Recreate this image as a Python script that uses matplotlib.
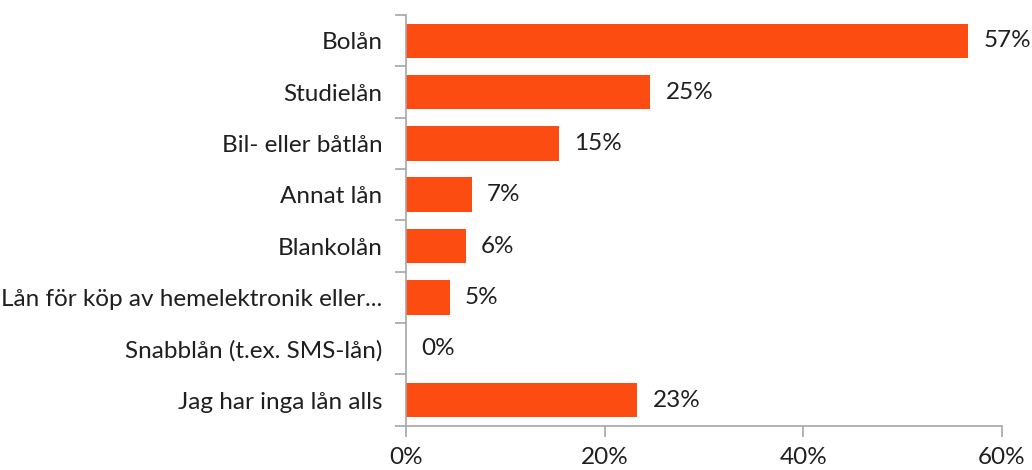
import matplotlib
matplotlib.use('Agg')
import matplotlib.pyplot as plt
from matplotlib.ticker import FuncFormatter

plt.rcParams['font.family'] = ['Lato', 'DejaVu Sans']

categories = [
    'Bolån',
    'Studielån',
    'Bil- eller båtlån',
    'Annat lån',
    'Blankolån',
    'Lån för köp av hemelektronik eller...',
    'Snabblån (t.ex. SMS-lån)',
    'Jag har inga lån alls',
]
values = [56.6, 24.6, 15.4, 6.6, 6.0, 4.4, 0.0, 23.3]
value_labels = ['57%', '25%', '15%', '7%', '6%', '5%', '0%', '23%']
xticks = [0, 20, 40, 60]

bar_color = '#FC4C12'
axis_color = '#A6A6A6'
text_color = '#1f1f1f'
fs = 17.5

fig = plt.figure(figsize=(10.32, 4.70), dpi=100)
ax = fig.add_axes([0.3934, 0.0943, 0.9706 - 0.3934, 0.968 - 0.0943])

pos = list(range(len(categories)))
ax.barh(pos, values, height=0.67, color=bar_color)
for p, v, lab in zip(pos, values, value_labels):
    ax.annotate(lab, (v, p), xytext=(11, 0), textcoords='offset points',
                va='center', ha='left', fontsize=fs, color=text_color)

ax.set_ylim(len(categories) - 0.5, -0.5)
ax.set_xlim(0, 60)
ax.set_xticks(xticks)
ax.xaxis.set_major_formatter(FuncFormatter(lambda x, _: f'{x:.0f}%'))

ax.set_yticks(pos)
ax.set_yticklabels(categories)
ax.set_yticks([i - 0.5 for i in range(len(categories) + 1)], minor=True)
ax.tick_params(axis='y', which='major', length=0, pad=17, labelsize=fs, labelcolor=text_color)
ax.tick_params(axis='y', which='minor', length=8, width=1.2, color=axis_color, direction='out')
ax.tick_params(axis='x', length=8, width=1.2, color=axis_color, labelsize=fs,
               labelcolor=text_color, pad=7)

for s in ['top', 'right']:
    ax.spines[s].set_visible(False)
for s in ['left', 'bottom']:
    ax.spines[s].set_color(axis_color)
    ax.spines[s].set_linewidth(1.2)

plt.savefig('out.png')
plt.close()
